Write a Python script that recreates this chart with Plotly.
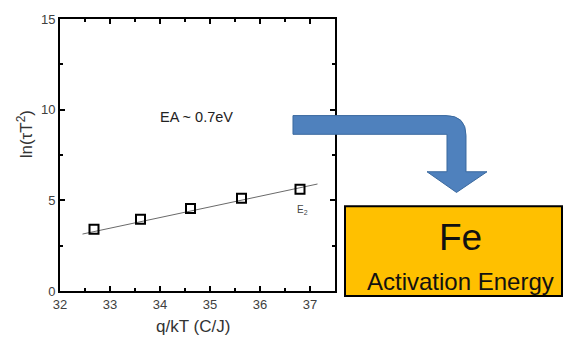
import plotly.graph_objects as go

# Arrhenius data: q/kT vs ln(tau*T^2)
q_over_kT = [32.68, 33.61, 34.61, 35.63, 36.80]
ln_tau_T2 = [3.41, 3.95, 4.55, 5.12, 5.61]

# Linear fit line endpoints
fit_x = [32.45, 37.15]
fit_y = [3.14, 5.90]

x_ticks = [32, 33, 34, 35, 36, 37]
y_ticks = [0, 5, 10, 15]

W, H = 565, 339
L, R, T, B = 60, 230, 15, 48
PW, PH = W - L - R, H - T - B


def px(x):
    return (x - L) / PW


def py(y):
    return (H - B - y) / PH


FONT = "Arial, Liberation Sans, sans-serif"


def paper_text(x, y, text, size, color="#111111", angle=0):
    fig.add_annotation(xref="paper", yref="paper", x=px(x), y=py(y), text=text,
                       showarrow=False, xanchor="center", yanchor="middle",
                       textangle=angle, font=dict(family=FONT, size=size, color=color))


fig = go.Figure()
fig.add_trace(go.Scatter(
    x=fit_x, y=fit_y, mode="lines",
    line=dict(color="#6a6a6a", width=1), showlegend=False, hoverinfo="skip"))
fig.add_trace(go.Scatter(
    x=q_over_kT, y=ln_tau_T2, mode="markers",
    marker=dict(symbol="square-open", size=9, color="black", line=dict(width=2)),
    showlegend=False))

axis_common = dict(
    showgrid=False, zeroline=False, showline=True, linecolor="black", linewidth=2,
    mirror="ticks", ticks="inside", ticklen=5, tickwidth=2, tickcolor="black",
    tickfont=dict(family=FONT, size=13, color="#404040"),
)
fig.update_xaxes(
    range=[32, 37.5], tickvals=x_ticks, ticktext=[str(v) for v in x_ticks],
    minor=dict(tickvals=[32.5, 33.5, 34.5, 35.5, 36.5], ticks="inside", ticklen=3,
               tickwidth=2, tickcolor="black"),
    **axis_common)
fig.update_yaxes(
    range=[0, 15], tickvals=y_ticks, ticktext=[str(v) for v in y_ticks],
    minor=dict(tickvals=[2.5, 7.5, 12.5], ticks="inside", ticklen=3,
               tickwidth=2, tickcolor="black"),
    **axis_common)

# Axis titles
paper_text(193, 327, "q/kT (C/J)", 17, "#333333")
paper_text(25, 132, "ln(τT<sup>2</sup>)", 17, "#333333", angle=-90)

fig.add_annotation(x=34.72, y=9.57, text="EA ~ 0.7eV", showarrow=False,
                   font=dict(family=FONT, size=14.5, color="#222222"))
fig.add_annotation(x=36.84, y=4.45, text="E<sub>2</sub>", showarrow=False,
                   font=dict(family=FONT, size=10, color="#444444"))

# Bent blue arrow pointing to the result box
pts = [("M", 293, 113), ("L", 446, 113), ("Q", 466, 113, 466, 133), ("L", 466, 170),
       ("L", 487, 170), ("L", 456.5, 191), ("L", 427, 170), ("L", 447, 170),
       ("L", 447, 132), ("L", 293, 132)]
path = ""
for p in pts:
    cmd, coords = p[0], p[1:]
    pairs = [f"{px(coords[i]):.5f},{py(coords[i + 1]):.5f}" for i in range(0, len(coords), 2)]
    path += cmd + " ".join(pairs) + " "
path += "Z"
fig.add_shape(type="path", xref="paper", yref="paper", path=path,
              fillcolor="#4f81bd", line=dict(color="#3b6a9f", width=1), layer="above")

# Result box
fig.add_shape(type="rect", xref="paper", yref="paper",
              x0=px(345), x1=px(562), y0=py(296), y1=py(205),
              fillcolor="#ffc000", line=dict(color="black", width=2), layer="above")
paper_text(460, 237, "Fe", 37)
paper_text(460, 281, "Activation Energy", 24)

fig.update_layout(
    width=W, height=H, margin=dict(l=L, r=R, t=T, b=B),
    paper_bgcolor="white", plot_bgcolor="white",
)
fig.write_html("out.html")
